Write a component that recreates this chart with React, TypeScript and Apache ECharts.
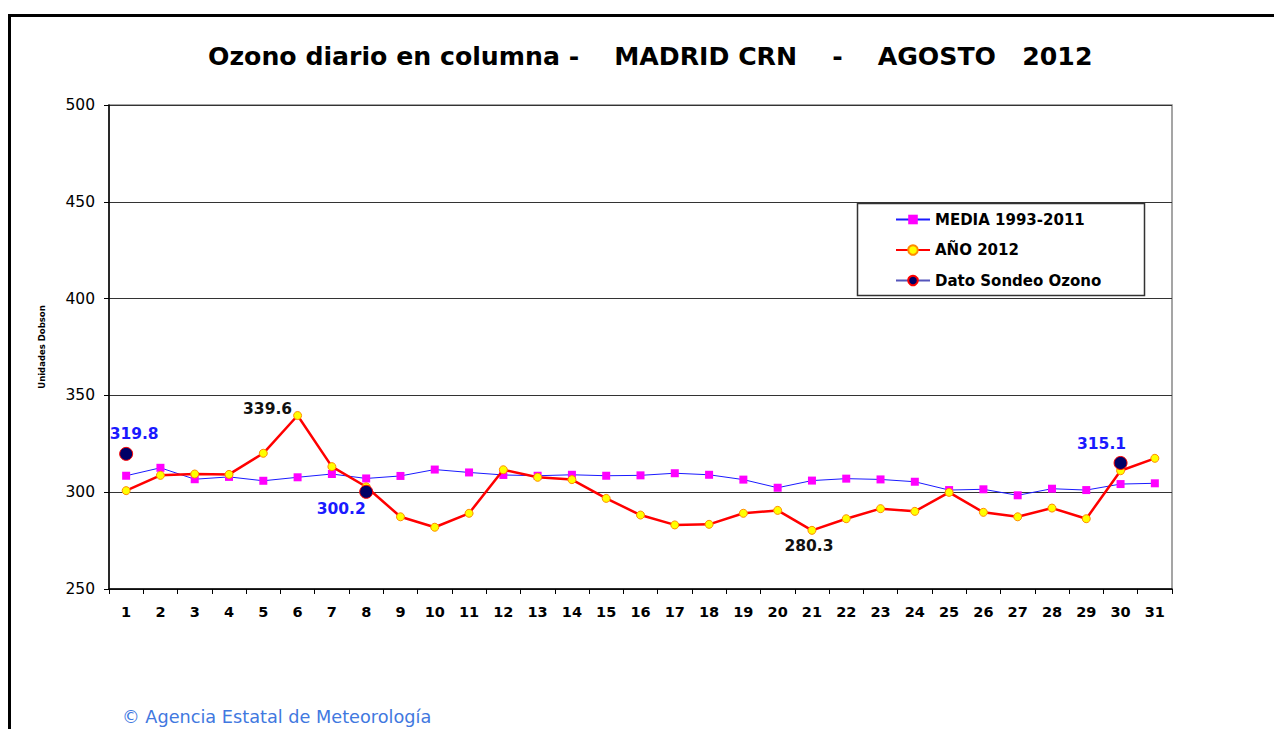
import React, { useEffect, useRef } from "react";
import * as echarts from "echarts";

const days = Array.from({ length: 31 }, (_, i) => String(i + 1));
const media = [308.5, 312.6, 306.7, 307.9, 305.9, 307.7, 309.4, 307.1, 308.4, 311.7, 310.2,
  308.9, 308.5, 309.0, 308.5, 308.7, 309.8, 309.0, 306.5, 302.3, 306.0,
  307.0, 306.6, 305.4, 301.1, 301.5, 298.4, 301.8, 301.1, 304.2, 304.6];
const ano2012 = [300.8, 308.7, 309.4, 309.2, 320.1, 339.6, 313.2, 302.8, 287.3, 281.9, 289.1,
  311.6, 307.7, 306.5, 296.8, 288.2, 283.1, 283.4, 289.1, 290.6, 280.3,
  286.3, 291.5, 290.1, 299.9, 289.6, 287.3, 291.8, 286.3, 311.1, 317.5];
const sondeo: (number | null)[] = [319.8, null, null, null, null, null, null, 300.2, null, null, null,
  null, null, null, null, null, null, null, null, null, null,
  null, null, null, null, null, null, null, null, 315.1, null];
const yTicks = { min: 250, max: 500, interval: 50 };
const titleText = "Ozono diario en columna -    MADRID CRN    -    AGOSTO   2012";
const legendNames = ["MEDIA 1993-2011", "AÑO 2012", "Dato Sondeo Ozono"];
const footerText = "© Agencia Estatal de Meteorología";

export default function App() {
  const ref = useRef<HTMLDivElement>(null);
  useEffect(() => {
    document.body.style.margin = "0";
    const chart = echarts.init(ref.current!, null, { renderer: "svg" });
    const font = "'DejaVu Sans', sans-serif";
    const lbl = (v: number, dx: number, dy: number, color: string) => ({
      show: true,
      position: "inside",
      offset: [dx, dy],
      color,
      fontWeight: "bold",
      fontSize: 15.5,
      fontFamily: font,
      formatter: String(v),
    });
    const anoData = ano2012.map((v, i) => {
      if (i === 5) return { value: v, label: lbl(v, -30, -7, "#111") };
      if (i === 20) return { value: v, label: lbl(v, -3, 16, "#111") };
      return v;
    });
    const sondeoData = sondeo.map((v, i) => {
      if (v == null) return null;
      if (i === 0) return { value: v, label: lbl(v, 8, -20, "#1a1aff") };
      if (i === 7) return { value: v, label: lbl(v, -25, 17, "#1a1aff") };
      return { value: v, label: lbl(v, -19, -19, "#1a1aff") };
    });
    chart.setOption({
      animation: false,
      backgroundColor: "#fff",
      textStyle: { fontFamily: font },
      title: {
        text: titleText,
        left: 203,
        top: 39,
        textStyle: { fontSize: 25.2, fontWeight: "bold", color: "#000", fontFamily: font },
      },
      legend: {
        orient: "vertical",
        left: 857,
        top: 203,
        padding: [9, 10, 8, 38],
        itemGap: 15.5,
        itemWidth: 34,
        itemHeight: 12,
        borderWidth: 0,
        textStyle: { fontSize: 15, fontWeight: "bold", color: "#000", fontFamily: font },
        data: legendNames,
      },
      grid: { left: 109, right: 102, top: 105, bottom: 140, show: true, borderColor: "#888", borderWidth: 1.5 },
      xAxis: {
        type: "category",
        data: days,
        boundaryGap: true,
        axisLine: { lineStyle: { color: "#000", width: 1.5 } },
        axisTick: { show: true, alignWithLabel: false, length: 5, lineStyle: { color: "#000" } },
        axisLabel: { color: "#000", fontWeight: "bold", fontSize: 14.5, margin: 15, fontFamily: font },
      },
      yAxis: {
        type: "value",
        min: yTicks.min,
        max: yTicks.max,
        interval: yTicks.interval,
        name: "Unidades Dobson",
        nameLocation: "middle",
        nameGap: 63,
        nameTextStyle: { fontSize: 8.5, fontWeight: "bold", color: "#000", fontFamily: font },
        axisLine: { show: true, lineStyle: { color: "#000", width: 1.5 } },
        axisTick: { show: true, length: 5, lineStyle: { color: "#000" } },
        axisLabel: { color: "#000", fontSize: 15.5, margin: 14, fontFamily: font },
        splitLine: { show: true, lineStyle: { color: "#333", width: 1 } },
      },
      graphic: [
        { type: "rect", shape: { x: 8, y: 14, width: 1266, height: 3 }, style: { fill: "#000" }, z: 100 },
        { type: "rect", shape: { x: 8, y: 14, width: 3, height: 715 }, style: { fill: "#000" }, z: 100 },
        {
          type: "rect",
          shape: { x: 857.5, y: 203.5, width: 287, height: 92 },
          style: { fill: "none", stroke: "#333", lineWidth: 1.5 },
          z: 50,
        },
        {
          type: "text",
          left: 122,
          top: 708,
          style: { text: footerText, fill: "#4178e0", fontSize: 17.7, fontFamily: font },
        },
      ],
      series: [
        {
          name: legendNames[0],
          type: "line",
          data: media,
          symbol: "rect",
          symbolSize: 8,
          itemStyle: { color: "#ff00ff", borderWidth: 0 },
          lineStyle: { color: "#1a1aff", width: 1 },
          z: 2,
        },
        {
          name: legendNames[1],
          type: "line",
          data: anoData,
          symbol: "circle",
          symbolSize: 8,
          itemStyle: { color: "#ffff00", borderColor: "#ff8c00", borderWidth: 1 },
          lineStyle: { color: "#ff0000", width: 2.5 },
          z: 3,
        },
        {
          name: legendNames[2],
          type: "line",
          data: sondeoData,
          connectNulls: false,
          symbol: "circle",
          symbolSize: 13,
          itemStyle: { color: "#000066", borderColor: "#ff0000", borderWidth: 1 },
          lineStyle: { color: "#5555bb", width: 1 },
          z: 4,
        },
      ],
    });
    return () => chart.dispose();
  }, []);
  return <div ref={ref} style={{ width: 1274, height: 729 }} />;
}
